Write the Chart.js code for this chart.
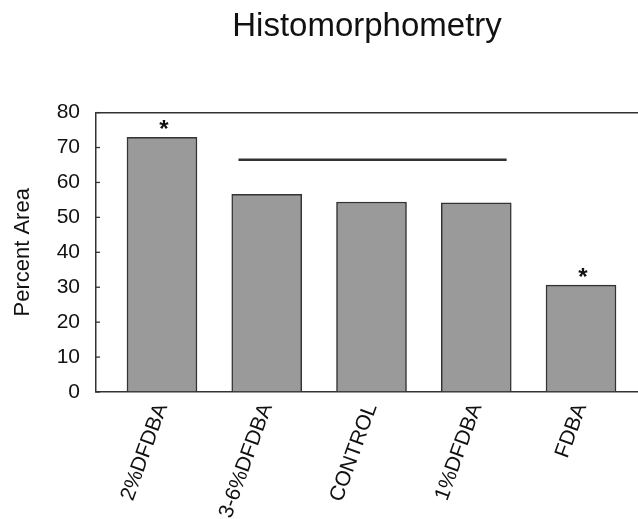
<!DOCTYPE html>
<html>
<head>
<meta charset="utf-8">
<script src="https://cdn.jsdelivr.net/npm/chart.js@4"></script>
<style>
    html, body { margin: 0; padding: 0; background: #fff; overflow: hidden; }
</style>
</head>
<body>
<canvas id="histo-chart" width="638" height="519"></canvas>
<script>
// data
const categories = ['2%DFDBA', '3-6%DFDBA', 'CONTROL', '1%DFDBA', 'FDBA'];
const percentArea = [72.9, 56.6, 54.4, 54.2, 30.6];
const significant = [true, false, false, false, true];
const bracketX = [0.73, 3.29];
const bracketY = 66.5;
const yTicks = [0, 10, 20, 30, 40, 50, 60, 70, 80];

const FONT = "'Liberation Sans', Arial, sans-serif";

// asterisks over the significant bars + inward y ticks
const annotations = {
    id: 'annotations',
    afterDatasetsDraw(chart) {
        const ctx = chart.ctx;
        const meta = chart.getDatasetMeta(0);
        ctx.save();
        ctx.fillStyle = '#111';
        ctx.font = 'bold 24px ' + FONT;
        ctx.textAlign = 'center';
        ctx.textBaseline = 'alphabetic';
        meta.data.forEach((bar, i) => {
            if (significant[i]) ctx.fillText('*', bar.x + 2, bar.y);
        });

        const y = chart.scales.y;
        ctx.strokeStyle = '#333';
        ctx.lineWidth = 1.3;
        y.ticks.forEach(t => {
            const py = y.getPixelForValue(t.value);
            ctx.beginPath();
            ctx.moveTo(y.right, py);
            ctx.lineTo(y.right + 4, py);
            ctx.stroke();
        });
        ctx.restore();
    }
};

new Chart(document.getElementById('histo-chart'), {
    type: 'bar',
    data: {
        datasets: [{
            type: 'bar',
            data: percentArea.map((v, i) => ({ x: i, y: v })),
            backgroundColor: '#9a9a9a',
            borderColor: '#333',
            borderWidth: 1.5,
            barThickness: 70,
            order: 2
        }, {
            type: 'line',
            data: bracketX.map(x => ({ x: x, y: bracketY })),
            borderColor: '#333',
            borderWidth: 2.5,
            pointRadius: 0,
            order: 1
        }]
    },
    options: {
        responsive: false,
        animation: false,
        layout: { padding: { left: 0, right: 0, top: 0, bottom: 0 } },
        plugins: {
            legend: { display: false },
            tooltip: { enabled: false },
            title: {
                display: true,
                text: 'Histomorphometry',
                fullSize: false,
                color: '#111',
                font: { family: FONT, size: 33, weight: 'normal' },
                padding: { top: 7, bottom: 66 }
            }
        },
        scales: {
            x: {
                type: 'linear',
                offset: false,
                min: -0.63,
                max: 4.544,
                afterBuildTicks: scale => {
                    scale.ticks = categories.map((c, i) => ({ value: i }));
                },
                afterFit: scale => { scale.height = 127; },
                grid: { display: false, drawTicks: false, offset: false },
                border: { display: true, color: '#333', width: 1.5 },
                ticks: {
                    autoSkip: false,
                    minRotation: 70,
                    maxRotation: 70,
                    padding: 8,
                    color: '#111',
                    font: { family: FONT, size: 21 },
                    callback: v => categories[v]
                }
            },
            y: {
                min: 0,
                max: 80,
                afterBuildTicks: scale => {
                    scale.ticks = yTicks.map(v => ({ value: v }));
                },
                afterFit: scale => { scale.width = 96; },
                grid: {
                    drawTicks: false,
                    color: ctx => (ctx.tick && ctx.tick.value === 80 ? '#333' : 'transparent'),
                    lineWidth: 1.5
                },
                border: { display: true, color: '#333', width: 1.5 },
                ticks: {
                    padding: 16,
                    color: '#111',
                    font: { family: FONT, size: 21 }
                },
                title: {
                    display: true,
                    text: 'Percent Area',
                    color: '#111',
                    font: { family: FONT, size: 22 },
                    padding: { top: 10, bottom: 0 }
                }
            }
        }
    },
    plugins: [annotations]
});
</script>
</body>
</html>
